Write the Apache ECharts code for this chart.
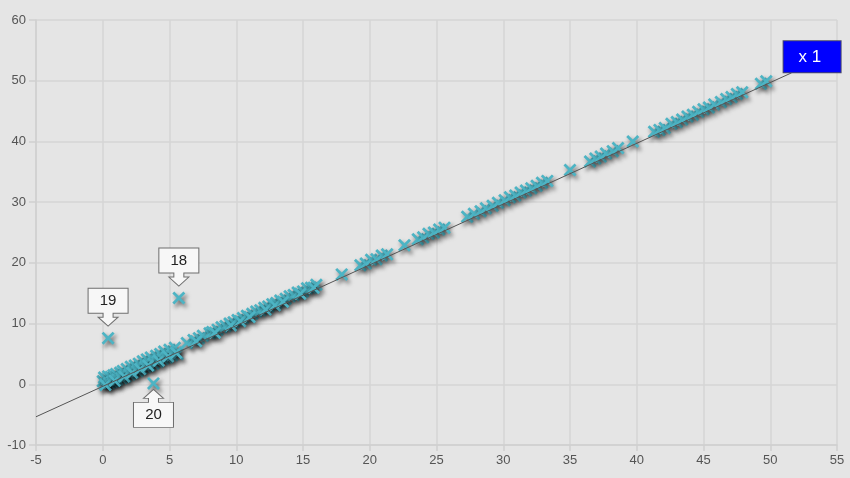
<!DOCTYPE html>
<html><head><meta charset="utf-8">
<script src="https://cdn.jsdelivr.net/npm/echarts@6/dist/echarts.min.js"></script>
<style>html,body{margin:0;padding:0;background:#e5e5e5}#c{width:850px;height:478px}</style>
</head><body><div id="c"></div>
<script>
// x values of the main points
const xs = [0.0,0.1,0.2,0.3,0.4,0.5,0.6,0.7,0.8,0.9,1.0,1.1,1.3,1.4,1.5,1.7,1.8,2.0,2.1,2.3,2.4,2.6,2.7,2.9,3.0,3.2,3.3,3.5,3.6,3.8,4.0,4.1,4.3,4.5,4.6,4.8,5.0,5.2,5.4,5.6,
  0.2,0.9,1.6,2.2,2.8,3.4,4.2,4.9,5.5,
  6.3,6.8,7.2,7.5,8.0,8.2,8.6,8.9,9.2,9.5,9.8,10.1,10.5,10.8,11.2,11.5,11.8,12.1,12.4,12.7,13.0,13.3,13.7,14.0,14.3,14.6,15.0,15.3,15.6,16.0,
  7.0,8.4,9.6,10.3,11.0,12.2,12.9,13.5,14.8,15.8,
  17.9,19.3,19.7,20.1,20.5,20.9,21.3,22.6,23.6,24.0,24.4,24.8,25.2,25.6,27.3,27.8,28.3,28.7,29.2,29.6,30.1,30.5,30.9,31.3,31.7,32.1,32.5,32.9,33.3,
  35.0,36.5,36.9,37.3,37.7,38.2,38.6,39.7,41.3,41.7,42.1,42.6,43.0,43.4,43.8,44.2,44.6,45.0,45.4,45.8,46.3,46.7,47.1,47.5,47.9,49.3,49.7];
// y values of the main points
const ys = [0.5,1.1,0.0,0.8,1.3,0.2,1.2,0.4,1.5,0.6,1.7,0.8,1.9,1.0,2.2,1.3,2.5,1.6,2.9,2.0,3.1,2.2,3.4,2.6,3.8,2.9,4.1,3.1,4.4,3.4,4.7,3.7,5.0,4.2,5.4,4.4,5.7,4.8,6.0,5.0,
  -0.1,0.6,1.3,1.9,2.5,3.1,3.9,4.6,5.2,
  6.8,7.3,7.6,8.0,8.4,8.6,9.0,9.4,9.6,10.0,10.2,10.6,10.9,11.3,11.6,12.0,12.2,12.6,12.8,13.2,13.4,13.8,14.1,14.5,14.7,15.1,15.3,15.8,15.9,16.4,
  7.1,8.5,9.7,10.4,11.1,12.3,13.0,13.6,14.9,15.9,
  18.1,19.6,19.9,20.5,20.6,21.2,21.4,22.9,23.9,24.2,24.8,25.0,25.5,25.8,27.6,28.1,28.5,29.0,29.4,29.9,30.3,30.8,31.1,31.6,31.9,32.3,32.7,33.2,33.5,
  35.3,36.7,37.2,37.5,38.0,38.4,38.9,40.0,41.6,41.9,42.2,42.9,43.2,43.6,44.1,44.4,44.9,45.3,45.6,46.1,46.5,47.0,47.3,47.8,48.1,49.5,49.9];
// labelled outliers
const outX = [5.7, 0.4, 3.8];
const outY = [14.2, 7.6, 0.15];
const outLabels = ['18', '19', '20'];
// fit line end points
const fitX = [-5, 51.6];
const fitY = [-5.35, 51.3];
const fitLabel = 'x 1';
const xTicks = {min: -5, max: 55, step: 5};
const yTicks = {min: -10, max: 60, step: 10};

const teal = '#4db4c4';
const xPath = 'path://M1.8,0 L6,4.2 L10.2,0 L12,1.8 L7.8,6 L12,10.2 L10.2,12 L6,7.8 L1.8,12 L0,10.2 L4.2,6 L0,1.8 Z';
const downCallout = 'path://M0,0 L40,0 L40,25 L25,25 L25,29 L30,29 L20,38 L10,29 L15,29 L15,25 L0,25 Z';
const upCallout = 'path://M20,0 L30,9 L25,9 L25,13 L40,13 L40,38 L0,38 L0,13 L15,13 L15,9 L10,9 Z';

const pts = xs.map((x, i) => [x, ys[i]]);
outX.forEach((x, i) => pts.push([x, outY[i]]));

const markData = outX.map((x, i) => {
  const up = i === 2;
  return {
    coord: [x, outY[i]],
    symbol: up ? upCallout : downCallout,
    symbolSize: [40, 38],
    symbolOffset: [0, up ? 25 : -31],
    itemStyle: {color: '#f7f7f7', borderColor: '#6f6f6f', borderWidth: 1, shadowBlur: 0, shadowOffsetX: 0, shadowOffsetY: 0},
    label: {show: true, formatter: outLabels[i], color: '#222', fontSize: 15, fontFamily: 'Liberation Sans, Arial, sans-serif',
      position: 'inside', offset: [0, up ? 6.5 : -6.5]}
  };
});

const chart = echarts.init(document.getElementById('c'), null, {renderer: 'canvas'});
const axisLabel = {color: '#555', fontSize: 13, fontFamily: 'Liberation Sans, Arial, sans-serif'};
chart.setOption({
  backgroundColor: '#e5e5e5',
  animation: false,
  grid: {left: 36, right: 13, top: 20, bottom: 33, containLabel: false},
  xAxis: {type: 'value', min: xTicks.min, max: xTicks.max, interval: xTicks.step,
    axisLine: {show: true, onZero: false, lineStyle: {color: '#cfcfcf', width: 1.5}},
    axisTick: {show: true, length: 6, lineStyle: {color: '#cfcfcf', width: 1.5}},
    axisLabel: Object.assign({margin: 9}, axisLabel),
    splitLine: {show: true, lineStyle: {color: '#d4d4d4', width: 1.5}}},
  yAxis: {type: 'value', min: yTicks.min, max: yTicks.max, interval: yTicks.step,
    axisLine: {show: true, onZero: false, lineStyle: {color: '#cfcfcf', width: 1.5}},
    axisTick: {show: true, length: 7, lineStyle: {color: '#cfcfcf', width: 1.5}},
    axisLabel: Object.assign({margin: 10}, axisLabel),
    splitLine: {show: true, lineStyle: {color: '#d4d4d4', width: 1.5}}},
  series: [
    {type: 'line', data: fitX.map((x, i) => [x, fitY[i]]), symbol: 'none', z: 5,
      lineStyle: {color: '#555', width: 1},
      endLabel: {show: true, formatter: fitLabel, color: '#fff', fontSize: 17,
        fontFamily: 'Liberation Sans, Arial, sans-serif', backgroundColor: '#0000ff',
        borderColor: '#4a4a6a', borderWidth: 1, padding: [7, 15, 6, 15], width: 27, height: 18, align: 'left',
        distance: 0, offset: [-8, -16]}},
    {type: 'scatter', data: pts, symbol: xPath, symbolSize: 13, z: 4,
      itemStyle: {color: teal, opacity: 1, shadowColor: 'rgba(0,0,0,0.6)', shadowBlur: 4, shadowOffsetX: 2, shadowOffsetY: 3},
      markPoint: {data: markData, z: 6}}
  ]
});
</script></body></html>
